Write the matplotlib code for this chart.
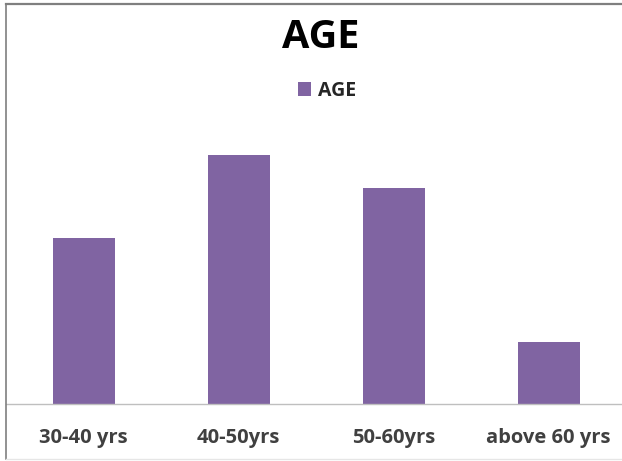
import matplotlib
matplotlib.use('Agg')
import matplotlib.pyplot as plt
from matplotlib.lines import Line2D

# Age groups of respondents
categories = ['30-40 yrs', '40-50yrs', '50-60yrs', 'above 60 yrs']
age_counts = [40, 60, 52, 15]

plt.rcParams['font.family'] = ['Open Sans', 'DejaVu Sans']

W, H = 622, 461
fig = plt.figure(figsize=(W / 100, H / 100), dpi=100)
fig.patch.set_facecolor('white')

# plot area: baseline at 404 px, left edge at 6 px, runs off the right side
ax = fig.add_axes([6 / W, (H - 404) / H, 1 - 6 / W, (404 - 130) / H])
x = list(range(len(categories)))
ax.bar(x, age_counts, width=0.40, color='#8064A2', label='AGE', zorder=2)

ax.set_xlim(-0.5, (W - 6) / 155 - 0.5)
ax.set_ylim(0, 66)
ax.set_xticks(x)
ax.set_xticklabels(categories, fontsize=14.5, fontweight='bold', color='#404040')
ax.tick_params(axis='x', length=0, pad=17)
ax.set_yticks([])
for side in ['top', 'right', 'left']:
    ax.spines[side].set_visible(False)
ax.spines['bottom'].set_color('#bfbfbf')
ax.spines['bottom'].set_linewidth(1.0)
ax.set_facecolor('none')

fig.text(321 / W, 1 - 38 / H, 'AGE', ha='center', va='center',
         fontsize=28.5, fontweight='bold', color='black')

fig.legend(loc='center', bbox_to_anchor=(327 / W, 1 - 91 / H), frameon=False,
           prop={'weight': 'bold', 'size': 14}, handlelength=0.7,
           handleheight=0.7, handletextpad=0.35, labelcolor='#262626')

# chart frame (top and left edges visible, faint bottom edge)
fig.add_artist(Line2D([5.5 / W, 1], [1 - 4 / H, 1 - 4 / H], color='#7f7f7f', lw=1.6))
fig.add_artist(Line2D([5.5 / W, 5.5 / W], [1 - 4 / H, 1 - 459 / H], color='#7f7f7f', lw=1.2))
fig.add_artist(Line2D([5.5 / W, 1], [1 - 459 / H, 1 - 459 / H], color='#e6e6e6', lw=1.0))

fig.savefig('out.png', dpi=100)
